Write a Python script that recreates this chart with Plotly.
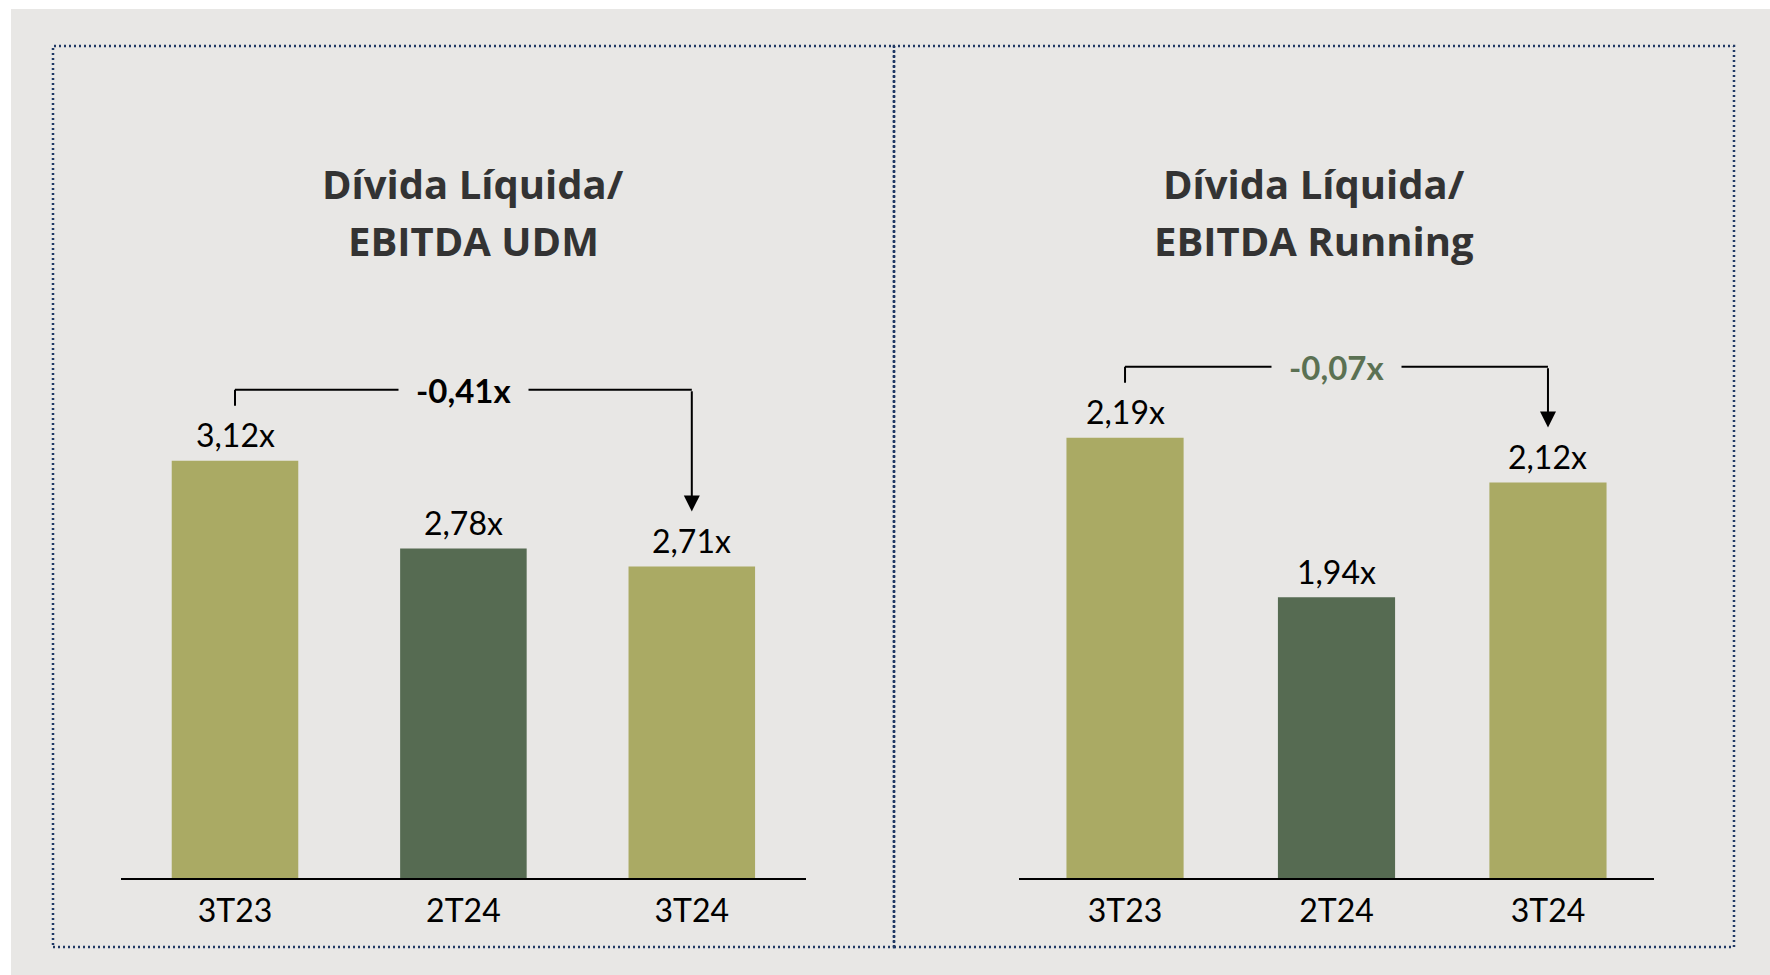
import plotly.graph_objects as go

# Data: net debt / EBITDA multiples per quarter
quarters = ["3T23", "2T24", "3T24"]
udm_values = [3.12, 2.78, 2.71]
running_values = [2.19, 1.94, 2.12]
panel_titles = [("Dívida Líquida/", "EBITDA UDM"), ("Dívida Líquida/", "EBITDA Running")]

LIGHT = "#AAAA64"
DARK = "#566B52"
BG = "#E8E7E5"
BORDER = "#1F3864"
FONT = "Lato"
TITLE_FONT = "Open Sans"

W, H = 1770, 975
PLOT_TOP, PLOT_BOTTOM = 300, 878  # px
Y_BASE = 1.5


def fmt(v):
    return f"{v:.2f}".replace(".", ",") + "x"


def py(px):
    """Pixel row -> paper y."""
    return 1 - px / H


panels = [
    {"values": udm_values, "x0": 120.8, "x1": 806.0, "scale": 257.5,
     "delta_color": "#000000", "center": 473.5, "suffix": ""},
    {"values": running_values, "x0": 1019.3, "x1": 1653.7, "scale": 638.0,
     "delta_color": "#5B7153", "center": 1314.0, "suffix": "2"},
]

fig = go.Figure()
shapes = [
    # page background
    dict(type="rect", xref="paper", yref="paper", x0=11 / W, x1=1, y0=0, y1=py(9),
         fillcolor=BG, line={"width": 0}, layer="below"),
]
annotations = []

for i, p in enumerate(panels):
    vals = p["values"]
    xa = "x" + p["suffix"]
    ya = "y" + p["suffix"]
    span = (PLOT_BOTTOM - PLOT_TOP) / p["scale"]
    fig.add_trace(go.Bar(
        x=quarters, y=vals,
        marker={"color": [LIGHT, DARK, LIGHT], "line": {"width": 0}},
        width=0.554, cliponaxis=False, xaxis=xa, yaxis=ya, hoverinfo="skip",
    ))
    ax_key = "xaxis" + p["suffix"]
    ay_key = "yaxis" + p["suffix"]
    fig.update_layout(**{
        ax_key: dict(domain=[p["x0"] / W, p["x1"] / W], anchor=ya,
                     showline=True, linecolor="#000000", linewidth=2,
                     showgrid=False, zeroline=False, ticks="", ticklabelstandoff=4,
                     tickfont={"family": FONT, "size": 32, "color": "#000000"},
                     fixedrange=True),
        ay_key: dict(domain=[py(PLOT_BOTTOM), py(PLOT_TOP)], anchor=xa,
                     range=[Y_BASE, Y_BASE + span], visible=False,
                     fixedrange=True),
    })

    # value labels above the bars
    for q, v in zip(quarters, vals):
        annotations.append(dict(x=q, y=v, xref=xa, yref=ya, text=fmt(v),
                                showarrow=False, yanchor="middle", yshift=26,
                                font={"family": FONT, "size": 32, "color": "#000000"}))

    # bracket from first to last bar, offsets in px converted to data units
    u = 1 / p["scale"]
    top = max(vals)
    y_line = top + 71 * u
    y_tick = vals[0] + 55 * u
    y_tip = vals[-1] + 55 * u
    shapes.append(dict(type="line", xref=xa, yref=ya, x0=0, x1=0,
                       y0=y_tick, y1=y_line, line={"color": "#000000", "width": 2}))
    shapes.append(dict(type="line", xref=xa, yref=ya, x0=0, x1=2,
                       y0=y_line, y1=y_line, line={"color": "#000000", "width": 2}))
    annotations.append(dict(x=2, y=y_tip, ax=2, ay=y_line, xref=xa, yref=ya,
                            axref=xa, ayref=ya, text="", showarrow=True,
                            arrowhead=2, arrowsize=1.6, arrowwidth=2,
                            arrowcolor="#000000", standoff=0))
    delta = vals[-1] - vals[0]
    annotations.append(dict(x=1, y=y_line, xref=xa, yref=ya,
                            text=f"<b>{fmt(delta)}</b>", showarrow=False,
                            font={"family": FONT, "size": 33, "color": p["delta_color"]},
                            bgcolor=BG, borderpad=17))

    # panel title (two lines)
    line1, line2 = panel_titles[i]
    for txt, ypx in ((line1, 183), (line2, 240)):
        annotations.append(dict(x=p["center"] / W, y=py(ypx), xref="paper", yref="paper",
                                text=f"<b>{txt}</b>", showarrow=False,
                                xanchor="center", yanchor="middle",
                                font={"family": TITLE_FONT, "size": 40, "color": "#333333"}))

# dotted panel frames
for x0, x1 in ((53, 894), (894, 1734)):
    shapes.append(dict(type="rect", xref="paper", yref="paper",
                       x0=x0 / W, x1=x1 / W, y0=py(947), y1=py(46),
                       line={"color": BORDER, "width": 2.5, "dash": "2px,3px"}))

fig.update_layout(
    width=W, height=H,
    margin={"l": 0, "r": 0, "t": 0, "b": 0},
    paper_bgcolor="#FFFFFF", plot_bgcolor="rgba(0,0,0,0)",
    showlegend=False,
    shapes=shapes, annotations=annotations,
    font={"family": FONT},
)

fig.write_html(
    "out.html",
    config={"displayModeBar": False},
    post_script="document.body.style.margin='0';document.body.style.overflow='hidden';",
)
